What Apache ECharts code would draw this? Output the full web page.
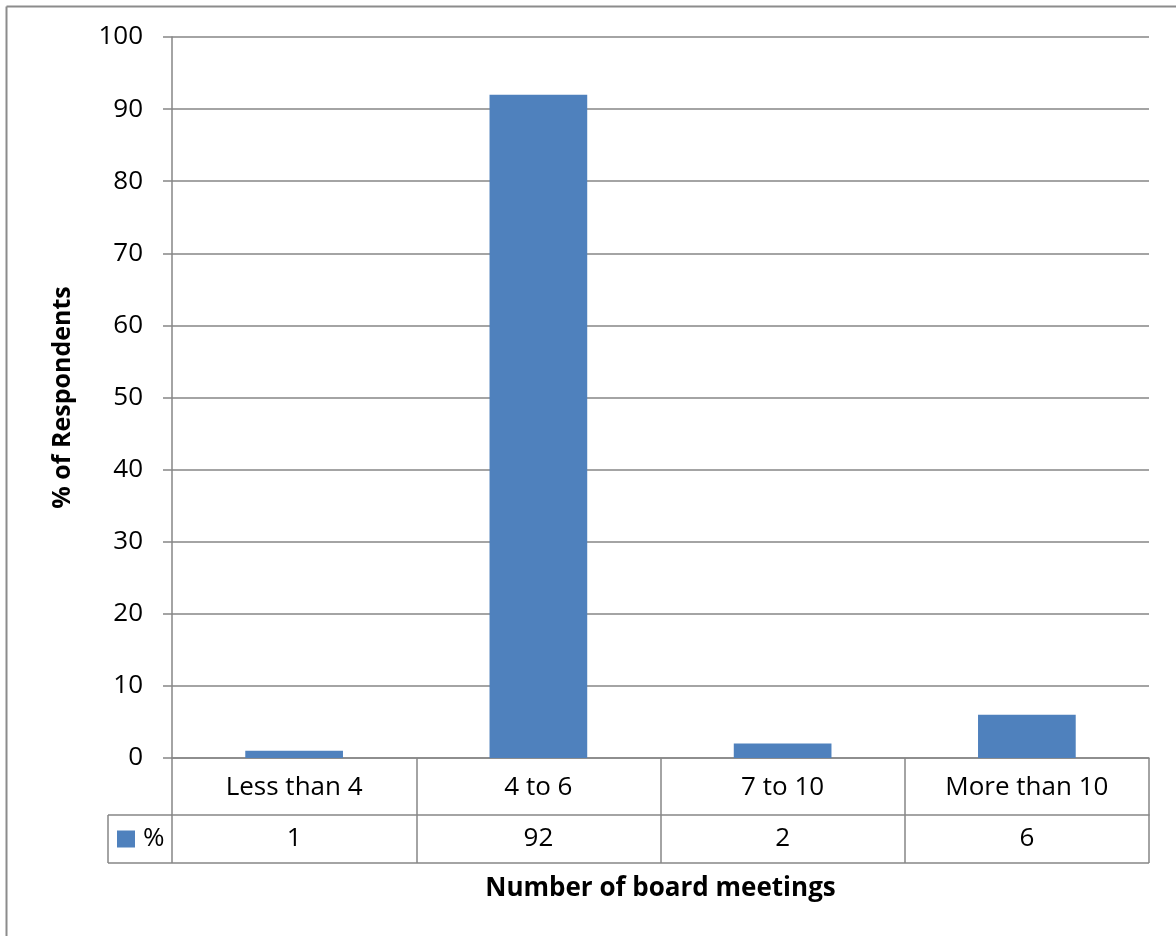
<!DOCTYPE html>
<html>
<head>
<meta charset="utf-8">
<script src="https://cdn.jsdelivr.net/npm/echarts@6/dist/echarts.min.js"></script>
<style>
  html, body { margin: 0; padding: 0; background: #ffffff; }
  #chart { width: 1176px; height: 936px; }
</style>
</head>
<body>
<div id="chart"></div>
<script>
// Board meeting frequency survey
const categories = ['Less than 4', '4 to 6', '7 to 10', 'More than 10'];
const seriesName = '%';
const values = [1, 92, 2, 6];
const yTicks = { min: 0, max: 100, interval: 10 };

const FONT = '"Open Sans", Lato, sans-serif';
const LINE = '#868686';
const BAR = '#4F81BD';
const FS = 26;

const chart = echarts.init(document.getElementById('chart'), null, { renderer: 'canvas' });

const grid = { left: 172, right: 27, top: 37, bottom: 178 };
const rowOffset = 57;   // second table row below the axis
const tableLeft = 108;  // left edge of the legend cell
const rowHeight = 48;

const option = {
  backgroundColor: '#ffffff',
  animation: false,
  grid: grid,
  legend: {
    data: [seriesName],
    left: 117,
    top: 825,
    padding: 0,
    itemWidth: 18,
    itemHeight: 17,
    itemGap: 6,
    icon: 'rect',
    textStyle: { fontFamily: FONT, fontSize: FS, lineHeight: 28, color: '#000', padding: [0, 0, 0, 3] },
    selectedMode: false
  },
  xAxis: [
    {
      type: 'category',
      data: categories,
      position: 'bottom',
      axisLine: { show: true, lineStyle: { color: LINE, width: 1.5 } },
      axisTick: { show: true, length: rowOffset + rowHeight, lineStyle: { color: LINE, width: 1.5 } },
      axisLabel: { fontFamily: FONT, fontSize: FS, color: '#000', margin: 17 },
      splitLine: { show: false }
    },
    {
      type: 'category',
      data: values.map(String),
      position: 'bottom',
      offset: rowOffset,
      axisLine: { show: true, lineStyle: { color: LINE, width: 1.5 } },
      axisTick: { show: false },
      axisLabel: { fontFamily: FONT, fontSize: FS, color: '#000', margin: 11 },
      name: 'Number of board meetings',
      nameLocation: 'middle',
      nameGap: 61,
      nameTextStyle: { fontFamily: FONT, fontSize: FS, fontWeight: 'bold', color: '#000' }
    }
  ],
  yAxis: {
    type: 'value',
    min: yTicks.min,
    max: yTicks.max,
    interval: yTicks.interval,
    axisLine: { show: true, lineStyle: { color: LINE, width: 1.5 } },
    axisTick: { show: true, length: 9, lineStyle: { color: LINE, width: 1.5 } },
    axisLabel: { fontFamily: FONT, fontSize: FS, color: '#000', margin: 29 },
    splitLine: { show: true, lineStyle: { color: LINE, width: 1.5 } },
    name: '% of Respondents',
    nameLocation: 'middle',
    nameGap: 97,
    nameTextStyle: { fontFamily: FONT, fontSize: 25, fontWeight: 'bold', color: '#000' }
  },
  series: [
    {
      name: seriesName,
      type: 'bar',
      xAxisIndex: 0,
      data: values,
      barCategoryGap: '60%',
      itemStyle: { color: BAR }
    }
  ]
};

chart.setOption(option);

// Table frame and outer border, placed from the grid's own coordinates
const x0 = chart.convertToPixel({ xAxisIndex: 0 }, 0) - (chart.convertToPixel({ xAxisIndex: 0 }, 1) - chart.convertToPixel({ xAxisIndex: 0 }, 0)) / 2;
const zeroY = chart.convertToPixel({ yAxisIndex: 0 }, 0);
const rowY = zeroY + rowOffset;
const bottomY = rowY + rowHeight;
const rightX = 1176 - grid.right;
const lineStyle = { stroke: LINE, lineWidth: 1.5 };

chart.setOption({
  graphic: [
    { type: 'line', shape: { x1: tableLeft, y1: rowY, x2: x0, y2: rowY }, style: lineStyle, silent: true },
    { type: 'line', shape: { x1: tableLeft, y1: bottomY, x2: rightX, y2: bottomY }, style: lineStyle, silent: true },
    { type: 'line', shape: { x1: tableLeft, y1: rowY, x2: tableLeft, y2: bottomY }, style: lineStyle, silent: true },
    { type: 'line', shape: { x1: 6.5, y1: 6.5, x2: 1176, y2: 6.5 }, style: { stroke: '#8c8c8c', lineWidth: 2 }, silent: true },
    { type: 'line', shape: { x1: 6.5, y1: 6.5, x2: 6.5, y2: 936 }, style: { stroke: '#8c8c8c', lineWidth: 2 }, silent: true }
  ]
});
</script>
</body>
</html>
